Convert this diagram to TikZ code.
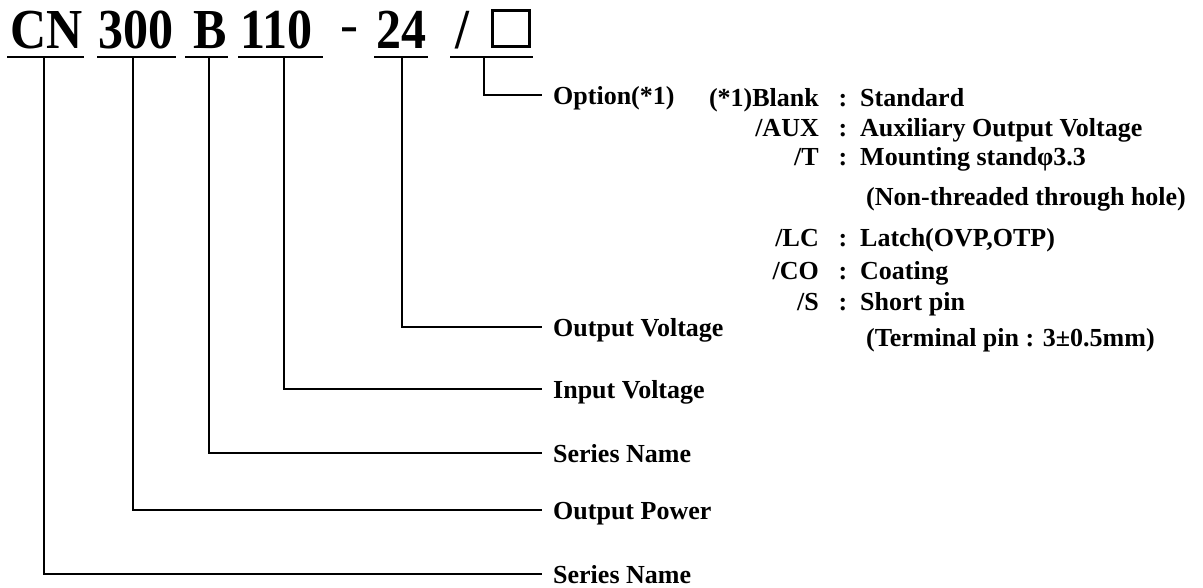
\documentclass[tikz,border=0pt]{standalone}
\usepackage{fontspec}
\setmainfont{Liberation Serif}
\newcommand{\tall}[1]{\scalebox{1}[1.13]{#1}}
\begin{document}
\begin{tikzpicture}[x=1pt,y=-1pt,
  title/.style={font=\fontsize{50}{50}\selectfont\bfseries, inner sep=0pt, anchor=base west},
  lbl/.style={font=\fontsize{26}{26}\selectfont\bfseries, anchor=west, inner xsep=11pt, inner ysep=0pt, text height=18pt, text depth=0pt},
  txt/.style={font=\fontsize{26}{26}\selectfont\bfseries, inner sep=0pt},
  uline/.style={line width=1.6pt},
  conn/.style={line width=1.6pt}]
\useasboundingbox (0,0) rectangle (1203,587);
% title parts
\node[title] (cn) at (10.5,48) {\tall{CN}};
\node[title] (p300) at (98,48) {\tall{300}};
\node[title] (ser) at (193,48) {\tall{B}};
\node[title] (vin) at (240.5,48) {\tall{110}};
\node[title, font=\fontsize{54}{54}\selectfont] (dash) at (340,42) {-};
\node[title] (vout) at (376,48) {\tall{24}};
\node[title] (slash) at (455,48) {\tall{/}};
\node[draw, line width=3pt, minimum width=37pt, minimum height=36pt, inner sep=0pt] (box) at (511,28.5) {};
% underlines
\draw[uline] (7,57) -- (84,57);
\draw[uline] (97,57) -- (176,57);
\draw[uline] (185,57) -- (228,57);
\draw[uline] (238,57) -- (323,57);
\draw[uline] (374,57) -- (428,57);
\draw[uline] (450,57) -- (533,57);
% connector start points
\coordinate (tcn) at (44,57);
\coordinate (tp300) at (133,57);
\coordinate (tser) at (209,57);
\coordinate (tvin) at (284,57);
\coordinate (tvout) at (402,57);
\coordinate (topt) at (484,57);
% labels
\node[lbl] (lopt) at (542,95) {Option(*1)};
\node[lbl] (lov) at (542,327) {Output Voltage};
\node[lbl] (liv) at (542,389) {Input Voltage};
\node[lbl] (lsn) at (542,453) {Series Name};
\node[lbl] (lop) at (542,510) {Output Power};
\node[lbl] (lcn) at (542,574) {Series Name};
% connectors
\draw[conn] (topt) |- (lopt.west);
\draw[conn] (tvout) |- (lov.west);
\draw[conn] (tvin) |- (liv.west);
\draw[conn] (tser) |- (lsn.west);
\draw[conn] (tp300) |- (lop.west);
\draw[conn] (tcn) |- (lcn.west);
% option list
\node[txt, anchor=base east] (k1) at (819,106) {(*1)Blank};
\node[txt, anchor=base] (c1) at (843,106) {:};
\node[txt, anchor=base west] (v1) at (860,106) {Standard};
\node[txt, anchor=base east] (k2) at (819,136) {/AUX};
\node[txt, anchor=base] (c2) at (843,136) {:};
\node[txt, anchor=base west] (v2) at (860,136) {Auxiliary Output Voltage};
\node[txt, anchor=base east] (k3) at (819,165) {/T};
\node[txt, anchor=base] (c3) at (843,165) {:};
\node[txt, anchor=base west] (v3) at (860,165) {Mounting standφ3.3};
\node[txt, anchor=base west] (v3b) at (866,205) {(Non-threaded through hole)};
\node[txt, anchor=base east] (k4) at (819,246) {/LC};
\node[txt, anchor=base] (c4) at (843,246) {:};
\node[txt, anchor=base west] (v4) at (860,246) {Latch(OVP,OTP)};
\node[txt, anchor=base east] (k5) at (819,279) {/CO};
\node[txt, anchor=base] (c5) at (843,279) {:};
\node[txt, anchor=base west] (v5) at (860,279) {Coating};
\node[txt, anchor=base east] (k6) at (819,310) {/S};
\node[txt, anchor=base] (c6) at (843,310) {:};
\node[txt, anchor=base west] (v6) at (860,310) {Short pin};
\node[txt, anchor=base west] (v6b) at (866,346) {(Terminal pin : 3±0.5mm)};
\end{tikzpicture}
\end{document}
